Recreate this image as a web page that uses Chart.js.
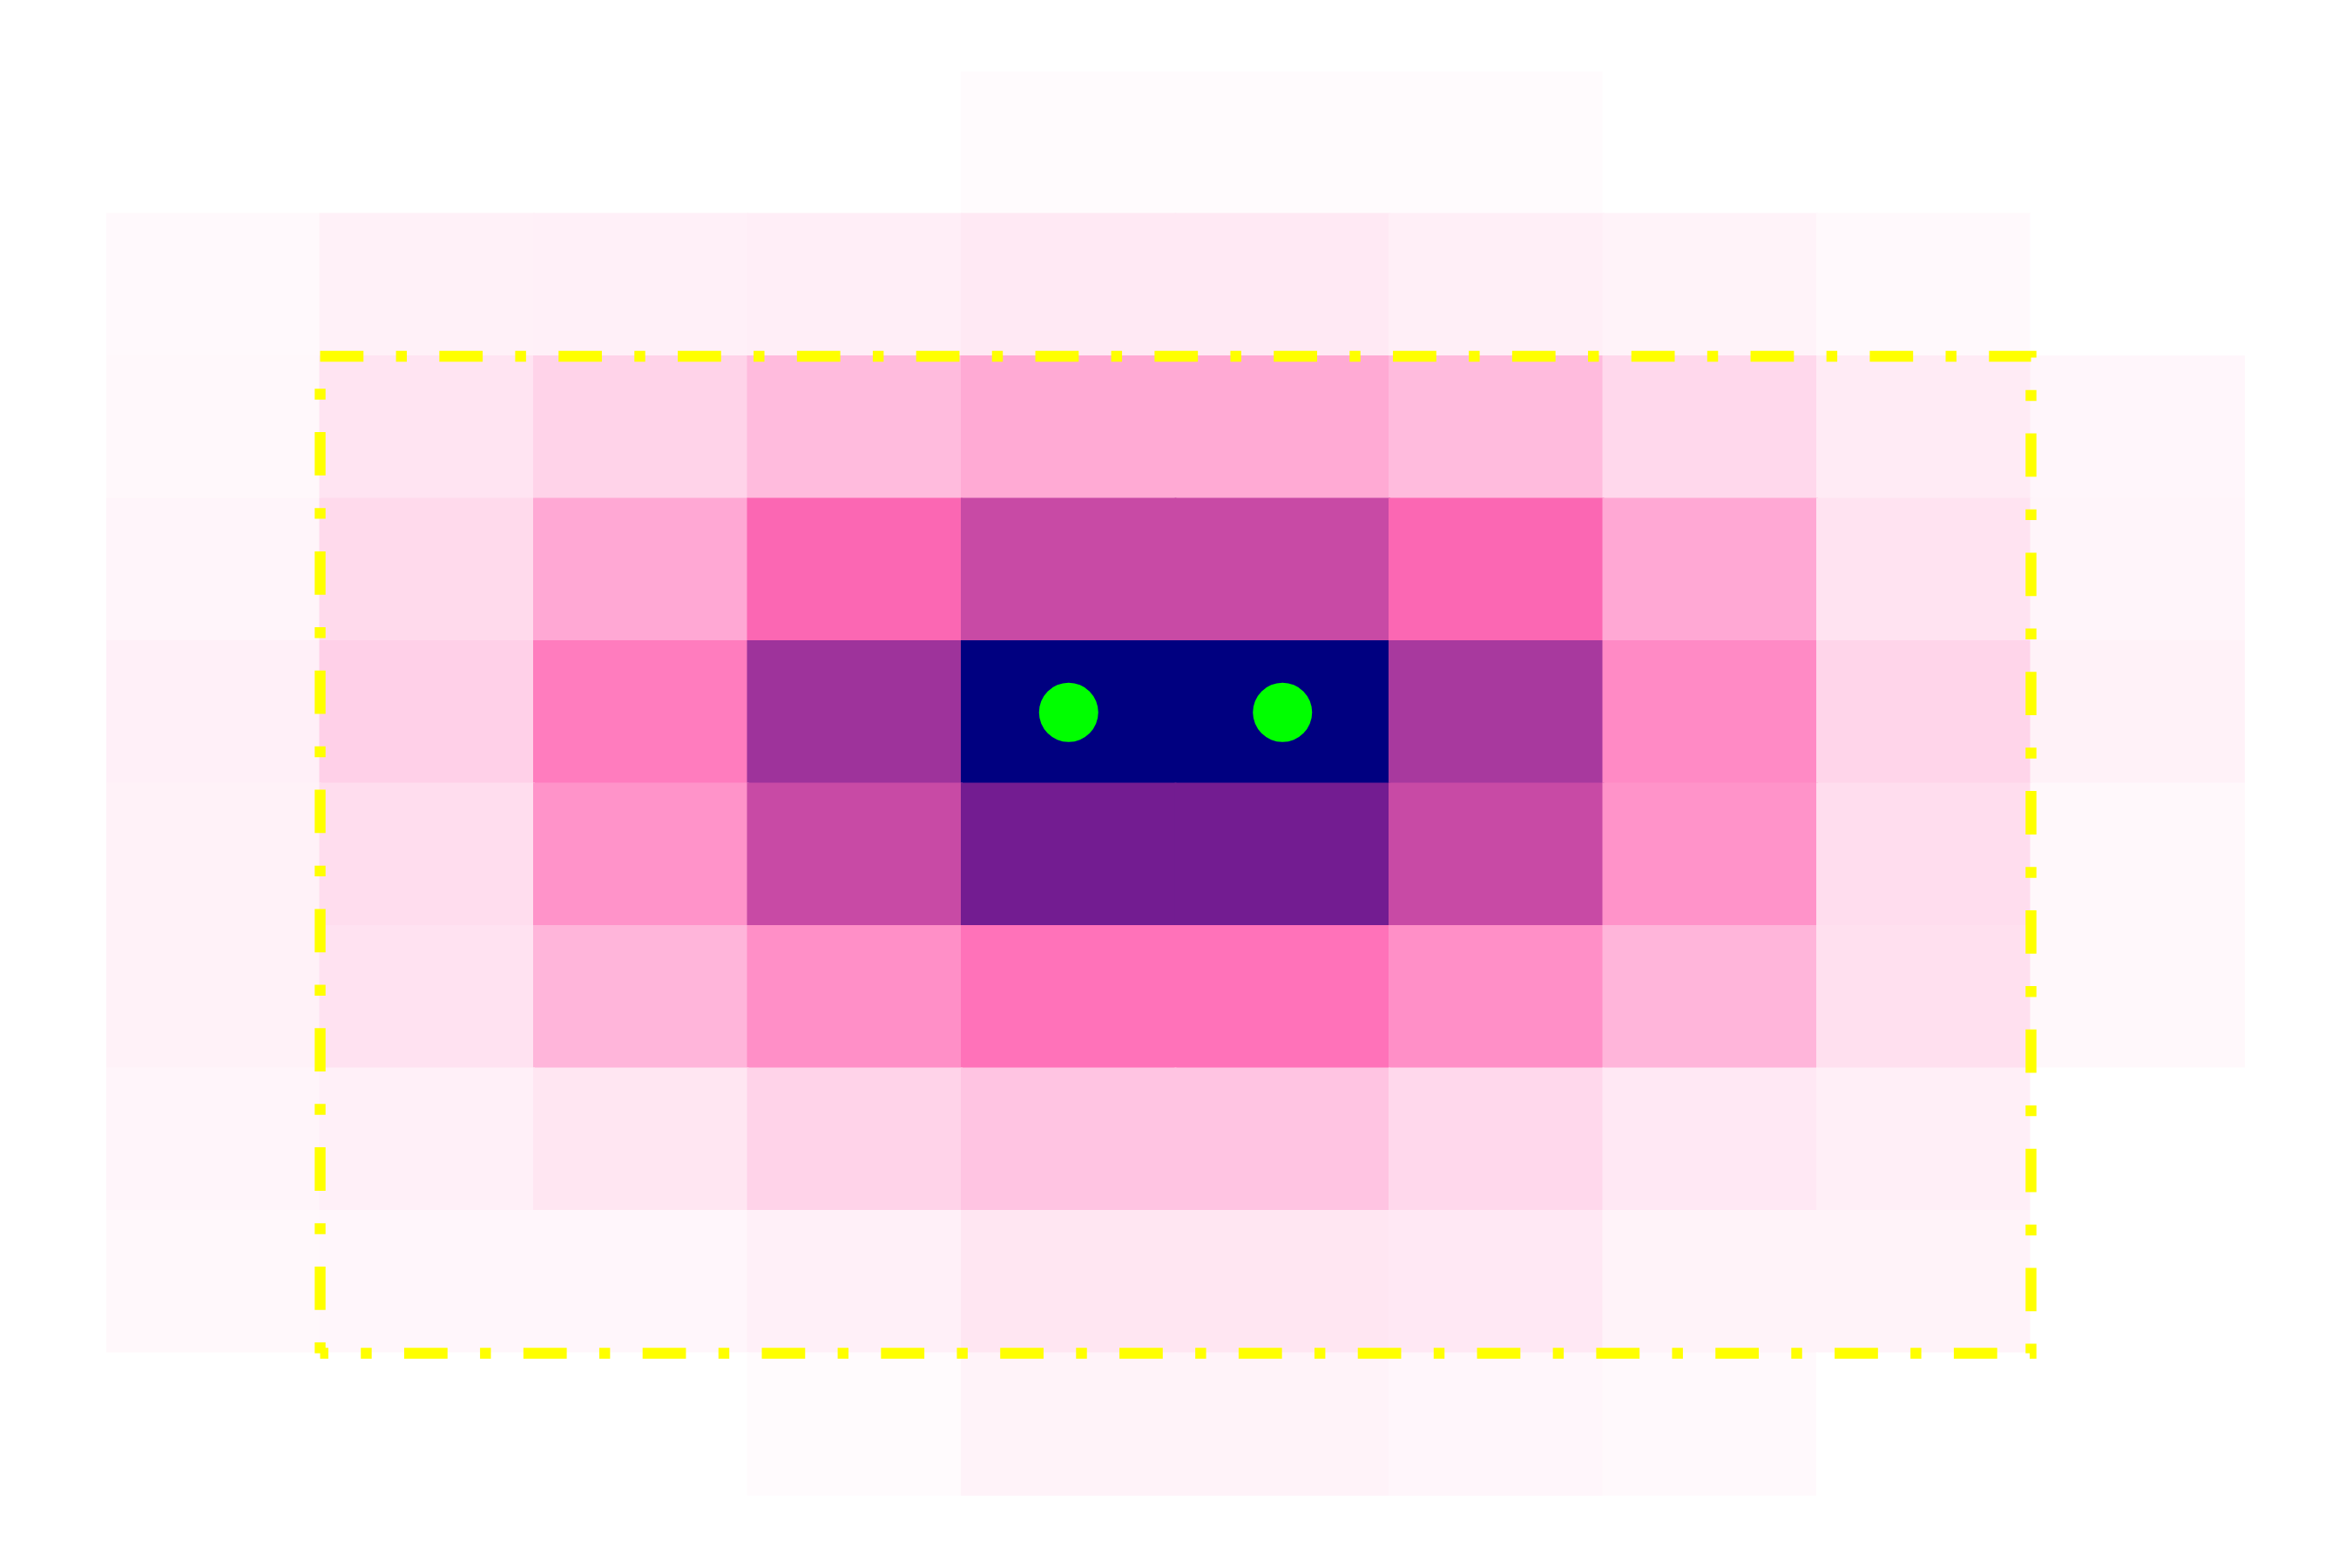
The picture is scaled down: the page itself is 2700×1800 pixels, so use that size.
<!DOCTYPE html>
<html>
<head>
<meta charset="utf-8">
<script src="https://cdn.jsdelivr.net/npm/chart.js@4/dist/chart.umd.min.js"></script>
<style>
  html, body { margin: 0; padding: 0; background: #ffffff; }
  #wrap { width: 2700px; height: 1800px; }
</style>
</head>
<body>
<div id="wrap"><canvas id="c" width="2700" height="1800"></canvas></div>
<script>
// ---------------- data ----------------
const colIndex = [0, 1, 2, 3, 4, 5, 6, 7, 8, 9];
const rowIndex = [0, 1, 2, 3, 4, 5, 6, 7, 8, 9];

const row0 = [0, 0, 0, 0, 1.1, 1.1, 1.1, 0, 0, 0];
const row1 = [1.6, 3.7, 4.0, 4.5, 5.9, 5.9, 4.3, 3.2, 1.6, 0];
const row2 = [1.9, 7.2, 11.7, 18.1, 22.7, 22.7, 18.1, 10.4, 5.3, 2.4];
const row3 = [2.7, 9.9, 23.2, 41.5, 60, 60, 41.5, 23.2, 7.5, 2.7];
const row4 = [4.0, 12.5, 34.9, 70, 100, 100, 67.5, 31.2, 11.2, 3.5];
const row5 = [3.5, 9.1, 28.8, 60, 80, 80, 60, 28.8, 9.1, 1.9];
const row6 = [3.5, 7.7, 19.7, 29.9, 37.6, 37.6, 29.9, 19.7, 8.3, 1.9];
const row7 = [2.7, 4.0, 6.7, 11.7, 15.7, 15.7, 10.4, 6.1, 4.3, 0];
const row8 = [1.9, 2.4, 2.4, 4.0, 6.7, 6.7, 6.1, 3.2, 3.2, 0];
const row9 = [0, 0, 0, 1.1, 3.2, 3.2, 2.4, 1.6, 0, 0];
const grid = [row0, row1, row2, row3, row4, row5, row6, row7, row8, row9];

const valueMax = 100;

// highlighted cells (green markers)
const markerCols = [4, 5];
const markerRows = [4, 4];

// dash-dot box: first/last column and row it encloses
const boxCols = [1, 8];
const boxRows = [2, 8];

// ---------------- style ----------------
const cmapStops = [
  [0.0, [255, 255, 255]],
  [0.4, [255, 105, 180]],
  [0.6, [200, 74, 165]],
  [0.8, [115, 28, 145]],
  [1.0, [0, 0, 128]]
];
function cmap(v) {
  const t = Math.max(0, Math.min(1, v / valueMax));
  for (let i = 1; i < cmapStops.length; i++) {
    const [t1, c1] = cmapStops[i];
    const [t0, c0] = cmapStops[i - 1];
    if (t <= t1) {
      const f = (t - t0) / (t1 - t0);
      const c = c0.map((a, k) => Math.round(a + (c1[k] - a) * f));
      return `rgb(${c[0]},${c[1]},${c[2]})`;
    }
  }
  return 'rgb(0,0,128)';
}
const dashUnit = 12.44;
const boxDash = [4 * dashUnit, 3 * dashUnit, 1 * dashUnit, 3 * dashUnit];

// ---------------- build datasets ----------------
const cells = [];
const cellColors = [];
rowIndex.forEach((r) => {
  colIndex.forEach((c) => {
    cells.push({ x: c + 0.5, y: [r, r + 1] });
    cellColors.push(cmap(grid[r][c]));
  });
});

const bx0 = boxCols[0], bx1 = boxCols[1] + 1;
const by0 = boxRows[0], by1 = boxRows[1] + 1;
const boxPath = [
  { x: bx0, y: by0 }, { x: bx1, y: by0 }, { x: bx1, y: by1 }, { x: bx0, y: by1 }
];
const boxLeft = [{ x: bx0, y: by0 }, { x: bx0, y: by1 }];

const markers = markerCols.map((c, i) => ({ x: c + 0.5, y: markerRows[i] + 0.5 }));

new Chart(document.getElementById('c').getContext('2d'), {
  type: 'bar',
  data: {
    datasets: [
      {
        type: 'bar',
        data: cells,
        backgroundColor: cellColors,
        borderWidth: 0,
        inflateAmount: 1,
        barPercentage: 1,
        categoryPercentage: 1,
        grouped: false,
        order: 3
      },
      {
        type: 'line',
        data: boxPath,
        borderColor: '#ffff00',
        backgroundColor: '#ffff00',
        borderWidth: 12.45,
        borderDash: boxDash,
        borderDashOffset: 0,
        borderJoinStyle: 'miter',
        borderCapStyle: 'butt',
        pointRadius: 0,
        fill: false,
        tension: 0,
        order: 2
      },
      {
        type: 'line',
        data: boxLeft,
        borderColor: '#ffff00',
        backgroundColor: '#ffff00',
        borderWidth: 12.45,
        borderDash: boxDash,
        borderDashOffset: 4 * dashUnit,
        borderJoinStyle: 'miter',
        borderCapStyle: 'butt',
        pointRadius: 0,
        fill: false,
        tension: 0,
        order: 2
      },
      {
        type: 'scatter',
        data: markers,
        backgroundColor: '#00ff00',
        borderWidth: 0,
        pointRadius: 34,
        pointHoverRadius: 34,
        order: 1
      }
    ]
  },
  options: {
    responsive: false,
    animation: false,
    devicePixelRatio: 1,
    layout: { padding: { left: 122, right: 123, top: 82, bottom: 83 } },
    plugins: { legend: { display: false }, tooltip: { enabled: false } },
    scales: {
      x: {
        type: 'linear', min: 0, max: 10, offset: false, display: false,
        ticks: { stepSize: 1 }, grid: { display: false }
      },
      y: {
        type: 'linear', min: 0, max: 10, reverse: true, display: false,
        beginAtZero: false, ticks: { stepSize: 1 }, grid: { display: false }
      }
    }
  }
});
</script>
</body>
</html>
